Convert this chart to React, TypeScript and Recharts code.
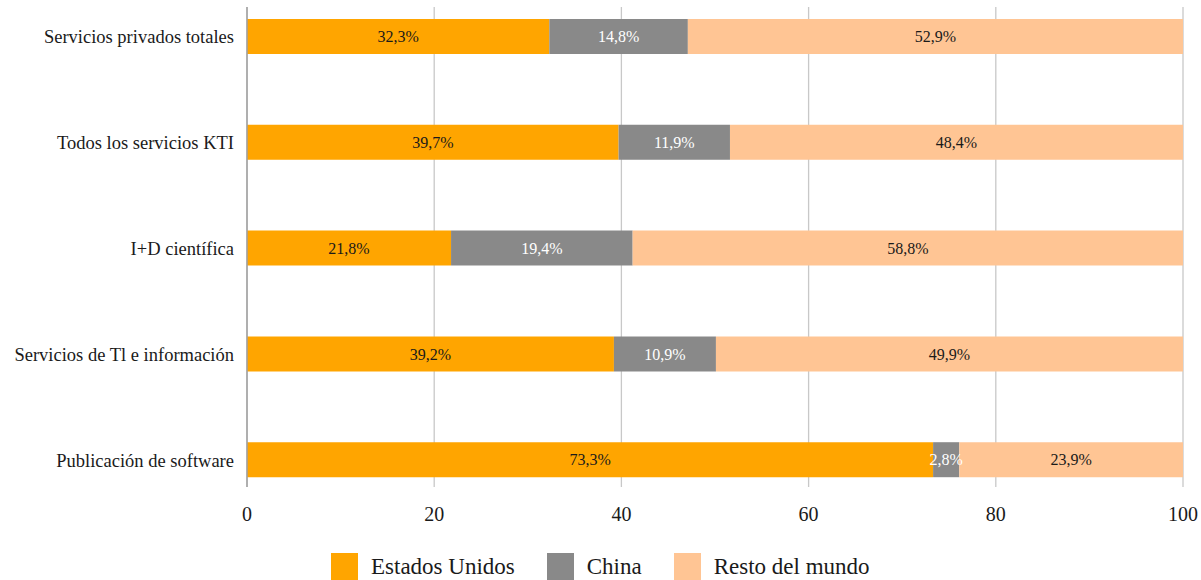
import React from 'react';
import { BarChart, Bar, XAxis, YAxis, CartesianGrid, Legend, LabelList } from 'recharts';

const categories = [
  'Servicios privados totales',
  'Todos los servicios KTI',
  'I+D científica',
  'Servicios de Tl e información',
  'Publicación de software',
];
const estadosUnidos = [32.3, 39.7, 21.8, 39.2, 73.3];
const china = [14.8, 11.9, 19.4, 10.9, 2.8];
const restoMundo = [52.9, 48.4, 58.8, 49.9, 23.9];
const xTicks = [0, 20, 40, 60, 80, 100];

const seriesNames = ['Estados Unidos', 'China', 'Resto del mundo'];
const colors = ['#FFA500', '#898989', '#FFC594'];

const data = categories.map((c, i) => ({
  name: c,
  us: estadosUnidos[i],
  cn: china[i],
  rw: restoMundo[i],
}));

const FONT = "'Liberation Serif', 'Times New Roman', Tinos, 'Noto Serif', 'DejaVu Serif', serif";
const fmt = (v: any) => `${String(v).replace('.', ',')}%`;

const LegendContent = () => (
  <div style={{ display: 'flex', alignItems: 'center', marginLeft: 331, fontFamily: FONT }}>
    {seriesNames.map((n, i) => (
      <div key={n} style={{ display: 'flex', alignItems: 'center', marginRight: 32 }}>
        <div style={{ width: 27, height: 27, background: colors[i], marginRight: 13 }} />
        <span style={{ fontSize: 23, color: '#1a1a1a', lineHeight: '27px', fontFamily: FONT }}>{n}</span>
      </div>
    ))}
  </div>
);

export default function App() {
  return (
    <div style={{ position: 'absolute', left: 0, top: 0, width: 1201, height: 580, background: '#fff', fontFamily: FONT }}>
      <BarChart
        width={1201}
        height={580}
        data={data}
        layout="vertical"
        margin={{ top: 7, right: 18, bottom: 63, left: 0 }}
        style={{ fontFamily: FONT }}
      >
        <CartesianGrid horizontal={false} stroke="#c8c8c8" strokeWidth={1.3} />
        <XAxis
          type="number"
          domain={[0, 100]}
          ticks={xTicks}
          height={30}
          axisLine={false}
          tickLine={false}
          tickMargin={14}
          tick={{ fontSize: 20, fill: '#1a1a1a', fontFamily: FONT }}
        />
        <YAxis
          type="category"
          dataKey="name"
          width={247}
          padding={{ top: -23, bottom: -26 }}
          axisLine={{ stroke: '#a0a0a0', strokeWidth: 1.5 }}
          tickLine={false}
          tickMargin={7}
          tick={{ fontSize: 18.5, fill: '#1a1a1a', fontFamily: FONT }}
        />
        <Legend
          layout="horizontal"
          verticalAlign="middle"
          align="center"
          wrapperStyle={{ top: 553, left: 0, width: 1201 }}
          content={<LegendContent />}
        />
        <Bar dataKey="us" stackId="a" fill={colors[0]} barSize={35} isAnimationActive={false} name={seriesNames[0]}>
          <LabelList dataKey="us" position="center" formatter={fmt} style={{ fontSize: 16, fill: '#1a1a1a', fontFamily: FONT }} />
        </Bar>
        <Bar dataKey="cn" stackId="a" fill={colors[1]} barSize={35} isAnimationActive={false} name={seriesNames[1]}>
          <LabelList dataKey="cn" position="center" formatter={fmt} style={{ fontSize: 16, fill: '#ffffff', fontFamily: FONT }} />
        </Bar>
        <Bar dataKey="rw" stackId="a" fill={colors[2]} barSize={35} isAnimationActive={false} name={seriesNames[2]}>
          <LabelList dataKey="rw" position="center" formatter={fmt} style={{ fontSize: 16, fill: '#1a1a1a', fontFamily: FONT }} />
        </Bar>
      </BarChart>
    </div>
  );
}
